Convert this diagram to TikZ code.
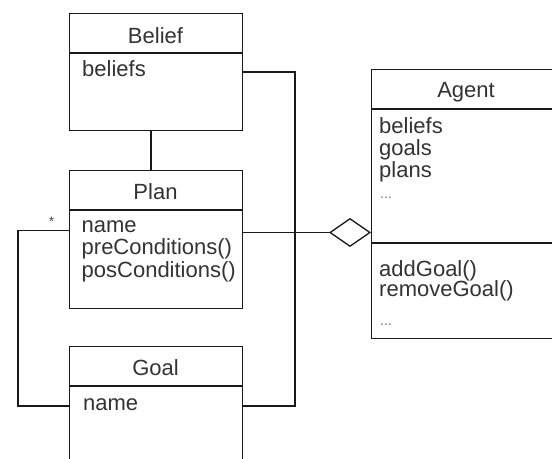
\documentclass[tikz,border=0pt]{standalone}
\usepackage{fontspec}
\setmainfont{Liberation Sans}
\usetikzlibrary{arrows.meta}
\begin{document}
\begin{tikzpicture}[x=1bp,y=-1bp,
  classbox/.style={draw=black!90, line width=1.3bp, rectangle, inner sep=0pt, anchor=north west},
  member/.style={inner sep=0pt, anchor=base west, text=black!80, font=\fontsize{22bp}{22bp}\selectfont},
  classname/.style={inner sep=0pt, anchor=base, text=black!80, font=\fontsize{22bp}{22bp}\selectfont},
  link/.style={draw=black!90, line width=1.3bp},
]
\clip (0,0) rectangle (552,459);
\fill[white] (0,0) rectangle (552,459);

% class boxes
\node[classbox, minimum width=173bp, minimum height=117bp] (belief) at (69,13) {};
\node[classbox, minimum width=173bp, minimum height=138bp] (plan) at (69,170) {};
\node[classbox, minimum width=173bp, minimum height=130bp] (goal) at (69,346) {};
\node[classbox, minimum width=200bp, minimum height=269bp] (agent) at (371,69) {};

% compartment dividers
\draw[link] (belief.west |- 0,53) -- (belief.east |- 0,53);
\draw[link] (plan.west |- 0,210) -- (plan.east |- 0,210);
\draw[link] (goal.west |- 0,386) -- (goal.east |- 0,386);
\draw[link] (agent.west |- 0,109) -- (agent.east |- 0,109);
\draw[link] (agent.west |- 0,243) -- (agent.east |- 0,243);

% class names
\node[classname] (beliefname) at (155.5,43.5) {Belief};
\node[classname] (planname) at (155.5,200) {Plan};
\node[classname] (goalname) at (155.5,375.5) {Goal};
\node[classname] (agentname) at (466,98) {Agent};

% members
\node[member] (beliefattr) at (82,77) {beliefs};

\node[member] (planname1) at (81.5,232.7) {name};
\node[member] (planpre) at (81.5,255) {preConditions()};
\node[member] (planpos) at (81.5,277.3) {posConditions()};

\node[member] (goalattr) at (83,410.7) {name};

\node[member] (agentbeliefs) at (379,133.3) {beliefs};
\node[member] (agentgoals) at (379,155.6) {goals};
\node[member] (agentplans) at (379,177.9) {plans};
\node[member, text=black!55, font=\fontsize{14bp}{14bp}\selectfont] (agentmore) at (380,199) {...};
\node[member] (agentadd) at (379,276) {addGoal()};
\node[member] (agentremove) at (379,296.7) {removeGoal()};
\node[member, text=black!55, font=\fontsize{14bp}{14bp}\selectfont] (agentops) at (380,325) {...};

% connector ports
\coordinate (beliefR) at (belief.east |- 0,72);
\coordinate (planL) at (plan.west |- 0,230.7);
\coordinate (planR) at (plan.east |- 0,232.5);
\coordinate (goalL) at (goal.west |- 0,406);
\coordinate (goalR) at (goal.east |- 0,406);
\coordinate (leftbend1) at (18,230.7);
\coordinate (leftbend2) at (18,406);
\coordinate (rightbend1) at (295,72);
\coordinate (rightbend2) at (295,406);

% associations
\draw[link] (belief.south -| 151,0) -- (plan.north -| 151,0);
\draw[link] (planL) -- (leftbend1) -- (leftbend2) -- (goalL);
\draw[link] (beliefR) -- (rightbend1) -- (rightbend2) -- (goalR);
\node[inner sep=0pt, text=black!70, font=\fontsize{14bp}{14bp}\selectfont] (mult) at (51.7,221.5) {*};

% aggregation into Agent
\draw[link, -{Diamond[open, length=42bp, width=29bp, line width=1.3bp]}] (planR) -- (agent.west |- planR);
\end{tikzpicture}
\end{document}
